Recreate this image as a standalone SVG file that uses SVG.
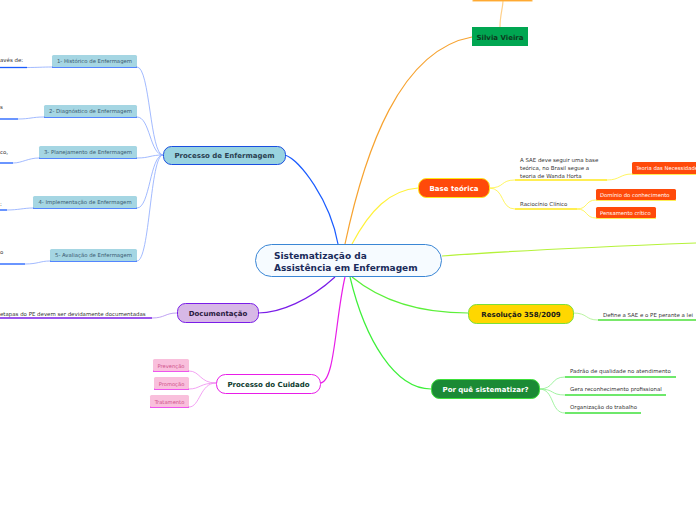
<svg xmlns="http://www.w3.org/2000/svg" width="696" height="520" viewBox="0 0 696 520">
<style>
text{font-family:"DejaVu Sans","Verdana",sans-serif}
.c{fill:none;stroke-width:1.2}
.sm{font-size:5.45px;fill:#333}
.lb{font-size:5.35px;fill:#3a5a70}
.b{font-weight:bold}
</style>
<rect width="696" height="520" fill="#fff"/>
<g id="connectors">
<path class="c" d="M338,244 C330,200 300,160 285,155" stroke="#1a5cff"/>
<path class="c" d="M345,244 C365,150 400,50 472,37" stroke="#f7a330"/>
<path class="c" d="M352,244 C370,210 390,190 418,188" stroke="#fff23a"/>
<path class="c" d="M442,256 C520,250 620,246 696,243" stroke="#b5f23a" stroke-width="1.6"/>
<path class="c" d="M352,277 C380,300 420,313 468,313" stroke="#5cf03a"/>
<path class="c" d="M350,277 C365,340 395,389 431,389" stroke="#3ef03a"/>
<path class="c" d="M345,277 C335,320 335,383 320,383" stroke="#e81de8"/>
<path class="c" d="M335,277 C310,300 280,313 258,313" stroke="#7a1de8"/>
<path class="c" d="M500,27 C500,15 503,8 503,0" stroke="#ffd08a"/>
<g stroke="#8aa8ff" fill="none" stroke-width="0.8">
<path d="M163,155 C150,155 150,67 137,67"/>
<path d="M163,155 C150,155 150,117 137,117"/>
<path d="M163,155 C150,155 150,158 137,158"/>
<path d="M163,155 C150,155 150,208 137,208"/>
<path d="M163,155 C150,155 150,261 137,261"/>
<path d="M27,67.5 C38,67.5 42,67 52,67"/>
<path d="M18,119 C30,119 32,117 44,117"/>
<path d="M13,163 C22,163 28,158 39,158"/>
<path d="M7,210 C18,210 24,208 33,208"/>
<path d="M25,264 C38,264 40,261 50,261"/>
</g>
<g stroke="#1a5cff" stroke-width="1.3">
<line x1="0" y1="67.5" x2="27" y2="67.5"/>
<line x1="0" y1="119" x2="18" y2="119"/>
<line x1="0" y1="163" x2="13" y2="163"/>
<line x1="0" y1="210" x2="7" y2="210"/>
<line x1="0" y1="264" x2="25" y2="264"/>
<line x1="52" y1="67" x2="137" y2="67"/>
<line x1="44" y1="117" x2="137" y2="117"/>
<line x1="39" y1="158" x2="137" y2="158"/>
<line x1="33" y1="208" x2="137" y2="208"/>
<line x1="50" y1="261" x2="137" y2="261"/>
</g>
<path d="M152,318 C165,318 165,313 177,313" stroke="#b08af0" fill="none" stroke-width="0.8"/>
<line x1="0" y1="318" x2="152" y2="318" stroke="#7a1de8" stroke-width="1.3"/>
<g stroke="#f08af0" fill="none" stroke-width="0.8">
<path d="M216,383 C200,383 200,371 189,371"/>
<path d="M216,383 C200,383 200,389 189,389"/>
<path d="M216,383 C200,383 200,407 189,407"/>
</g>
<g stroke="#e81de8" stroke-width="1.3">
<line x1="153" y1="371" x2="189" y2="371"/>
<line x1="154" y1="389" x2="189" y2="389"/>
<line x1="150" y1="407" x2="189" y2="407"/>
</g>
<g stroke="#fff23a" fill="none" stroke-width="0.8">
<path d="M489,188 C505,188 500,180 515,180"/>
<path d="M489,188 C505,188 500,209 515,209"/>
<path d="M607,180 C620,180 620,174 632,174"/>
<path d="M577,209 C588,209 585,200 596,200"/>
<path d="M577,209 C588,209 585,218 596,218"/>
</g>
<g stroke="#ffe81a" stroke-width="1.3">
<line x1="515" y1="180" x2="607" y2="180"/>
<line x1="515" y1="209" x2="577" y2="209"/>
<line x1="632" y1="174" x2="696" y2="174"/>
<line x1="596" y1="200" x2="676" y2="200"/>
<line x1="596" y1="218" x2="656" y2="218"/>
</g>
<path d="M573,313 C588,313 585,320 598,320" stroke="#a8f08a" fill="none" stroke-width="0.8"/>
<line x1="598" y1="320" x2="696" y2="320" stroke="#4ce03a" stroke-width="1.3"/>
<g stroke="#8af08a" fill="none" stroke-width="0.8">
<path d="M539,389 C555,389 550,377 565,377"/>
<path d="M539,389 C555,389 550,395 565,395"/>
<path d="M539,389 C555,389 550,413 565,413"/>
</g>
<g stroke="#3ee03a" stroke-width="1.3">
<line x1="565" y1="377" x2="676" y2="377"/>
<line x1="565" y1="395" x2="666" y2="395"/>
<line x1="565" y1="413" x2="641" y2="413"/>
</g>
</g>

<g id="central">
<rect x="255.5" y="244.5" width="186" height="32" rx="16" fill="#f6fbff" stroke="#3a86d5" stroke-width="1"/>
<text x="274" y="259" class="b" font-size="9" fill="#1a2b5a">Sistematização da</text>
<text x="274" y="270.5" class="b" font-size="9" fill="#1a2b5a">Assistência em Enfermagem</text>
</g>

<g id="processo-enfermagem">
<rect x="163.5" y="146.5" width="122" height="18" rx="8" fill="#99d3e0" stroke="#1a4fe0" stroke-width="1"/>
<text x="224.5" y="158" text-anchor="middle" class="b" font-size="7" fill="#2a4050">Processo de Enfermagem</text>
</g>
<g id="pe1"><rect x="52" y="55" width="85" height="12" rx="1.5" fill="#a5d6e3"/><text x="94.5" y="63.3" text-anchor="middle" class="lb">1- Histórico de Enfermagem</text><text x="0" y="62" class="sm">avés de:</text></g>
<g id="pe2"><rect x="44" y="105" width="93" height="12" rx="1.5" fill="#a5d6e3"/><text x="90.5" y="113.3" text-anchor="middle" class="lb">2- Diagnóstico de Enfermagem</text><text x="0" y="109" class="sm">s</text></g>
<g id="pe3"><rect x="39" y="146" width="98" height="12" rx="1.5" fill="#a5d6e3"/><text x="88" y="154.3" text-anchor="middle" class="lb">3- Planejamento de Enfermagem</text><text x="0" y="154" class="sm">co,</text></g>
<g id="pe4"><rect x="33" y="196" width="104" height="12" rx="1.5" fill="#a5d6e3"/><text x="85" y="204.3" text-anchor="middle" class="lb">4- Implementação de Enfermagem</text><text x="0" y="206" class="sm">:</text></g>
<g id="pe5"><rect x="50" y="249" width="87" height="12" rx="1.5" fill="#a5d6e3"/><text x="93.5" y="257.3" text-anchor="middle" class="lb">5- Avaliação de Enfermagem</text><text x="0" y="254" class="sm">o</text></g>

<g id="documentacao">
<rect x="177.5" y="303.5" width="81" height="19" rx="8" fill="#d7b8e6" stroke="#7a1de8" stroke-width="1"/>
<text x="218" y="315.8" text-anchor="middle" class="b" font-size="7" fill="#2a1a40">Documentação</text>
<text x="0" y="316" class="sm">etapas do PE devem ser devidamente documentadas</text>
</g>

<g id="processo-cuidado">
<rect x="216.5" y="374.5" width="104" height="19" rx="9" fill="#fff" stroke="#e81de8" stroke-width="1"/>
<text x="268.5" y="386.6" text-anchor="middle" class="b" font-size="7" fill="#0d3b2e">Processo do Cuidado</text>
</g>
<g id="prevencao"><rect x="153" y="359" width="36" height="12" rx="1.5" fill="#f9bfdc"/><text x="171" y="367.5" text-anchor="middle" font-size="5.2" fill="#d0508a">Prevenção</text></g>
<g id="promocao"><rect x="154" y="377" width="35" height="12" rx="1.5" fill="#f9bfdc"/><text x="171.5" y="385.5" text-anchor="middle" font-size="5.2" fill="#d0508a">Promoção</text></g>
<g id="tratamento"><rect x="150" y="395" width="39" height="12" rx="1.5" fill="#f9bfdc"/><text x="169.5" y="403.5" text-anchor="middle" font-size="5.2" fill="#d0508a">Tratamento</text></g>

<g id="silvia-top"><rect x="473" y="-10" width="59" height="11" fill="#ff9a1a" stroke="#ffb84a" stroke-width="1"/></g>
<g id="silvia-vieira">
<rect x="472" y="27" width="56" height="19" fill="#00a651"/>
<text x="500" y="39.5" text-anchor="middle" class="b" font-size="7" fill="#0d3b20">Silvia Vieira</text>
</g>

<g id="base-teorica">
<rect x="418.5" y="178.5" width="71" height="19" rx="8" fill="#ff4a0a" stroke="#ffe81a" stroke-width="1"/>
<text x="454" y="190.8" text-anchor="middle" class="b" font-size="7" fill="#fff">Base teórica</text>
</g>
<g id="bt-sae">
<text x="520" y="162" class="sm">A SAE deve seguir uma base</text>
<text x="520" y="170" class="sm">teórica, no Brasil segue a</text>
<text x="520" y="177.5" class="sm">teoria de Wanda Horta</text>
</g>
<g id="bt-teoria"><rect x="632" y="162" width="70" height="12" rx="1.5" fill="#ff4a0a"/><text x="636" y="170.3" font-size="5.3" fill="#fff">Teoria das Necessidades</text></g>
<g id="bt-raciocinio"><text x="520" y="206" class="sm">Raciocínio Clínico</text></g>
<g id="bt-dominio"><rect x="596" y="189" width="80" height="11" rx="1.5" fill="#ff4a0a"/><text x="600" y="196.8" font-size="5.3" fill="#fff">Domínio do conhecimento</text></g>
<g id="bt-pensamento"><rect x="596" y="207" width="60" height="11" rx="1.5" fill="#ff4a0a"/><text x="600" y="214.8" font-size="5.3" fill="#fff">Pensamento crítico</text></g>

<g id="resolucao">
<rect x="468.5" y="304.5" width="105" height="19" rx="8" fill="#ffd700" stroke="#7be03a" stroke-width="1"/>
<text x="521" y="316.8" text-anchor="middle" class="b" font-size="7" fill="#1a1a1a">Resolução 358/2009</text>
</g>
<g id="res-define"><text x="603" y="317" class="sm">Define a SAE e o PE perante a lei</text></g>

<g id="porque">
<rect x="431.5" y="379.5" width="108" height="19" rx="8" fill="#1b8a35" stroke="#3de03a" stroke-width="1"/>
<text x="485.5" y="391.8" text-anchor="middle" class="b" font-size="7" fill="#fff">Por quê sistematizar?</text>
</g>
<g id="pq1"><text x="570" y="373" class="sm">Padrão de qualidade no atendimento</text></g>
<g id="pq2"><text x="570" y="391" class="sm">Gera reconhecimento profissional</text></g>
<g id="pq3"><text x="570" y="409" class="sm">Organização do trabalho</text></g>
</svg>
